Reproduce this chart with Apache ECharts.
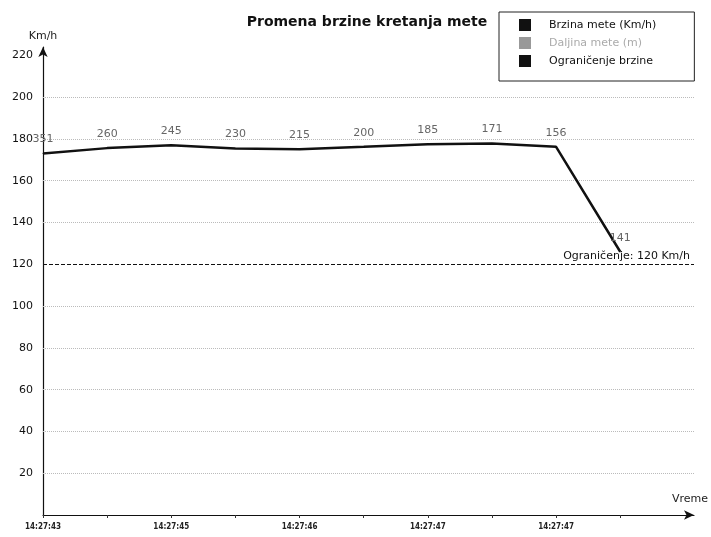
<!DOCTYPE html>
<html><head><meta charset="utf-8">
<script src="https://cdn.jsdelivr.net/npm/echarts@6/dist/echarts.min.js"></script>
<style>html,body{margin:0;padding:0;background:#fff}#c{width:711px;height:537px}</style>
</head><body><div id="c"></div>
<script>
const timeIdx = [0,1,2,3,4,5,6,7,8,9];
const timeLabels = {0:'14:27:43',2:'14:27:45',4:'14:27:46',6:'14:27:47',8:'14:27:47'};
const speed = [173, 175.6, 177, 175.4, 175.1, 176.2, 177.4, 177.8, 176.2, 126];
const distance = ['351','260','245','230','215','200','185','171','156','141'];
const speedLimit = 120;
const gridValues = [20,40,60,80,100,140,160,180,200];
const yLabels = [20,40,60,80,100,120,140,160,180,200,220];

const F = '"DejaVu Sans", Verdana, sans-serif';
const chart = echarts.init(document.getElementById('c'), null, {renderer:'canvas'});
chart.setOption({
  animation:false,
  backgroundColor:'#fff',
  title:{text:'Promena brzine kretanja mete', left:362, top:10, textAlign:'center',
    textStyle:{fontFamily:F, fontWeight:'bold', fontSize:14, color:'#111'}},
  legend:{
    orient:'vertical', left:499, top:12, padding:[7,38,14,20], itemGap:6,
    itemWidth:12, itemHeight:12, borderColor:'#222', borderWidth:1, backgroundColor:'#fff',
    textStyle:{fontFamily:F, fontSize:11, color:'#111', padding:[0,0,0,13]},
    data:[
      {name:'Brzina mete (Km/h)', icon:'rect', itemStyle:{color:'#111', opacity:1}},
      {name:'Daljina mete (m)', icon:'rect', textStyle:{color:'#aaa'}},
      {name:'Ograničenje brzine', icon:'rect'}
    ]
  },
  grid:{left:43, right:14, top:47, bottom:22, containLabel:false},
  xAxis:{
    type:'value', min:0, max:10.15, interval:1,
    name:'Vreme', nameLocation:'end', nameGap:14,
    nameTextStyle:{fontFamily:F, fontSize:11, color:'#222', align:'right', verticalAlign:'bottom', padding:[0,0,10,0]},
    axisLine:{show:true, lineStyle:{color:'#111', width:1.2}, symbol:['none','arrow'], symbolSize:[7,10]},
    axisTick:{show:true, length:3, lineStyle:{color:'#333'}, customValues:timeIdx},
    axisLabel:{customValues:[0,2,4,6,8], margin:8, fontFamily:'"Liberation Sans Narrow","DejaVu Sans Condensed",sans-serif',
      fontWeight:'bold', fontSize:8, color:'#222', formatter:v=>timeLabels[v]||''},
    splitLine:{show:false}
  },
  yAxis:{
    type:'value', min:0, max:224,
    name:'Km/h', nameLocation:'end', nameGap:5,
    nameTextStyle:{fontFamily:F, fontSize:11, color:'#222', align:'center'},
    axisLine:{show:true, lineStyle:{color:'#111', width:1.2}, symbol:['none','arrow'], symbolSize:[7,10]},
    axisTick:{show:false},
    axisLabel:{customValues:yLabels, margin:10, fontFamily:F, fontSize:11, color:'#111'},
    splitLine:{show:false}
  },
  series:[
    {
      name:'Brzina mete (Km/h)', type:'line', color:'#111',
      data: timeIdx.map((x,i)=>[x, speed[i]]),
      showSymbol:true, symbol:'circle', symbolSize:1,
      itemStyle:{color:'#111'},
      lineStyle:{color:'#111', width:2.5},
      label:{show:true, position:'top', distance:8, fontFamily:F, fontSize:11, color:'#666',
        formatter:p=>distance[p.dataIndex]},
      labelLayout:{hideOverlap:false},
      z:5
    },
    {
      name:'Daljina mete (m)', type:'line', color:'#999', data:[],
      markLine:{silent:true, symbol:'none', label:{show:false},
        lineStyle:{color:'#bbb', type:'dotted', width:1},
        data: gridValues.map(v=>({yAxis:v}))}
    },
    {
      name:'Ograničenje brzine', type:'line', color:'#111', data:[],
      markLine:{silent:true, symbol:'none',
        lineStyle:{color:'#111', type:'dashed', width:1},
        label:{show:true, position:'insideEndTop', distance:[4,3], fontFamily:F, fontSize:11, color:'#111',
          formatter:'Ograničenje: ' + speedLimit + ' Km/h'},
        data:[{yAxis:speedLimit}]}
    }
  ]
});
</script></body></html>
